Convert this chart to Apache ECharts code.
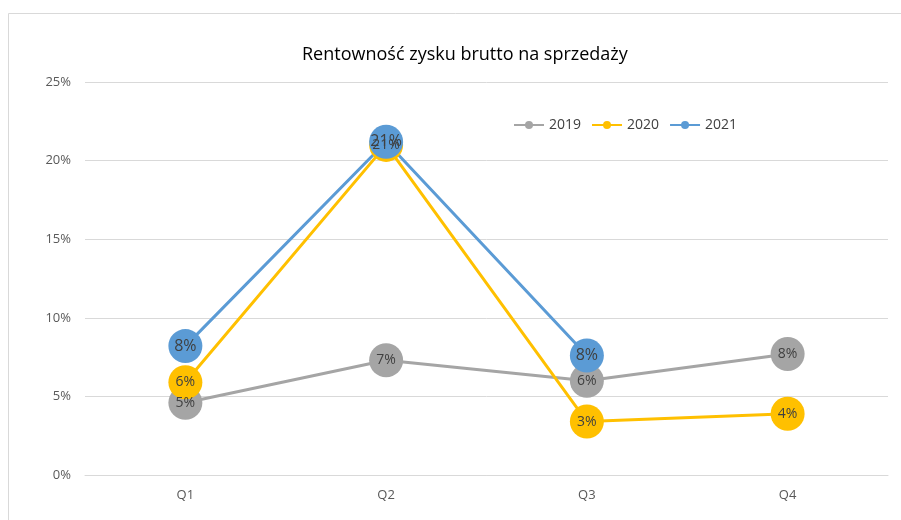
<!DOCTYPE html>
<html>
<head>
<meta charset="utf-8">
<script src="https://cdn.jsdelivr.net/npm/echarts@6/dist/echarts.min.js"></script>
<style>
  html, body { margin: 0; padding: 0; background: #fff; }
  #root { width: 901px; height: 520px; }
</style>
</head>
<body>
<div id="root"></div>
<script>
// dane z wykresu (wartości w %)
const quarters = ['Q1', 'Q2', 'Q3', 'Q4'];
const y2019 = [4.6, 7.3, 6.0, 7.7];
const y2020 = [5.9, 21.0, 3.4, 3.9];
const y2021 = [8.2, 21.2, 7.6, null];
const yTicks = [0, 5, 10, 15, 20, 25];

const FONT = '"Open Sans", "Noto Sans", sans-serif';
const LABEL_COLOR = '#404040';

const makeSeries = (name, data, color, fontSize) => ({
  name,
  type: 'line',
  data,
  symbol: 'circle',
  symbolSize: 34,
  lineStyle: { width: 3, color },
  itemStyle: { color },
  label: {
    show: true,
    position: 'inside',
    color: LABEL_COLOR,
    fontFamily: FONT,
    fontSize,
    formatter: (p) => `${Math.round(p.value)}%`,
  },
  emphasis: { disabled: true },
  animation: false,
});

const myChart = echarts.init(document.getElementById('root'));

const options = {
  backgroundColor: '#fff',
  title: {
    text: 'Rentowność zysku brutto na sprzedaży',
    left: 297,
    top: 41,
    textStyle: { fontFamily: FONT, fontSize: 18, fontWeight: 'normal', color: '#000' },
  },
  legend: {
    data: ['2019', '2020', '2021'],
    left: 508,
    top: 113,
    itemWidth: 30,
    itemHeight: 10,
    itemGap: 10,
    textStyle: { fontFamily: FONT, fontSize: 14, color: '#404040' },
  },
  grid: { left: 85, right: 13, top: 82, bottom: 45 },
  xAxis: {
    type: 'category',
    data: quarters,
    boundaryGap: true,
    axisLine: { show: true, lineStyle: { color: '#d9d9d9', width: 1 } },
    axisTick: { show: false },
    axisLabel: { fontFamily: FONT, fontSize: 13, color: '#595959', margin: 14 },
  },
  yAxis: {
    type: 'value',
    min: yTicks[0],
    max: yTicks[yTicks.length - 1],
    interval: 5,
    axisLine: { show: false },
    axisTick: { show: false },
    splitLine: { lineStyle: { color: '#d9d9d9', width: 1 } },
    axisLabel: {
      fontFamily: FONT, fontSize: 13, color: '#595959', margin: 14,
      formatter: (v) => `${v}%`,
    },
  },
  graphic: [{
    type: 'rect',
    shape: { x: 8.5, y: 13.5, width: 1000, height: 600 },
    style: { fill: 'none', stroke: '#d9d9d9', lineWidth: 1 },
    silent: true,
  }],
  series: [
    makeSeries('2019', y2019, '#A5A5A5', 14),
    makeSeries('2020', y2020, '#FFC000', 14),
    makeSeries('2021', y2021, '#5B9BD5', 16),
  ],
};

myChart.setOption(options);
</script>
</body>
</html>
